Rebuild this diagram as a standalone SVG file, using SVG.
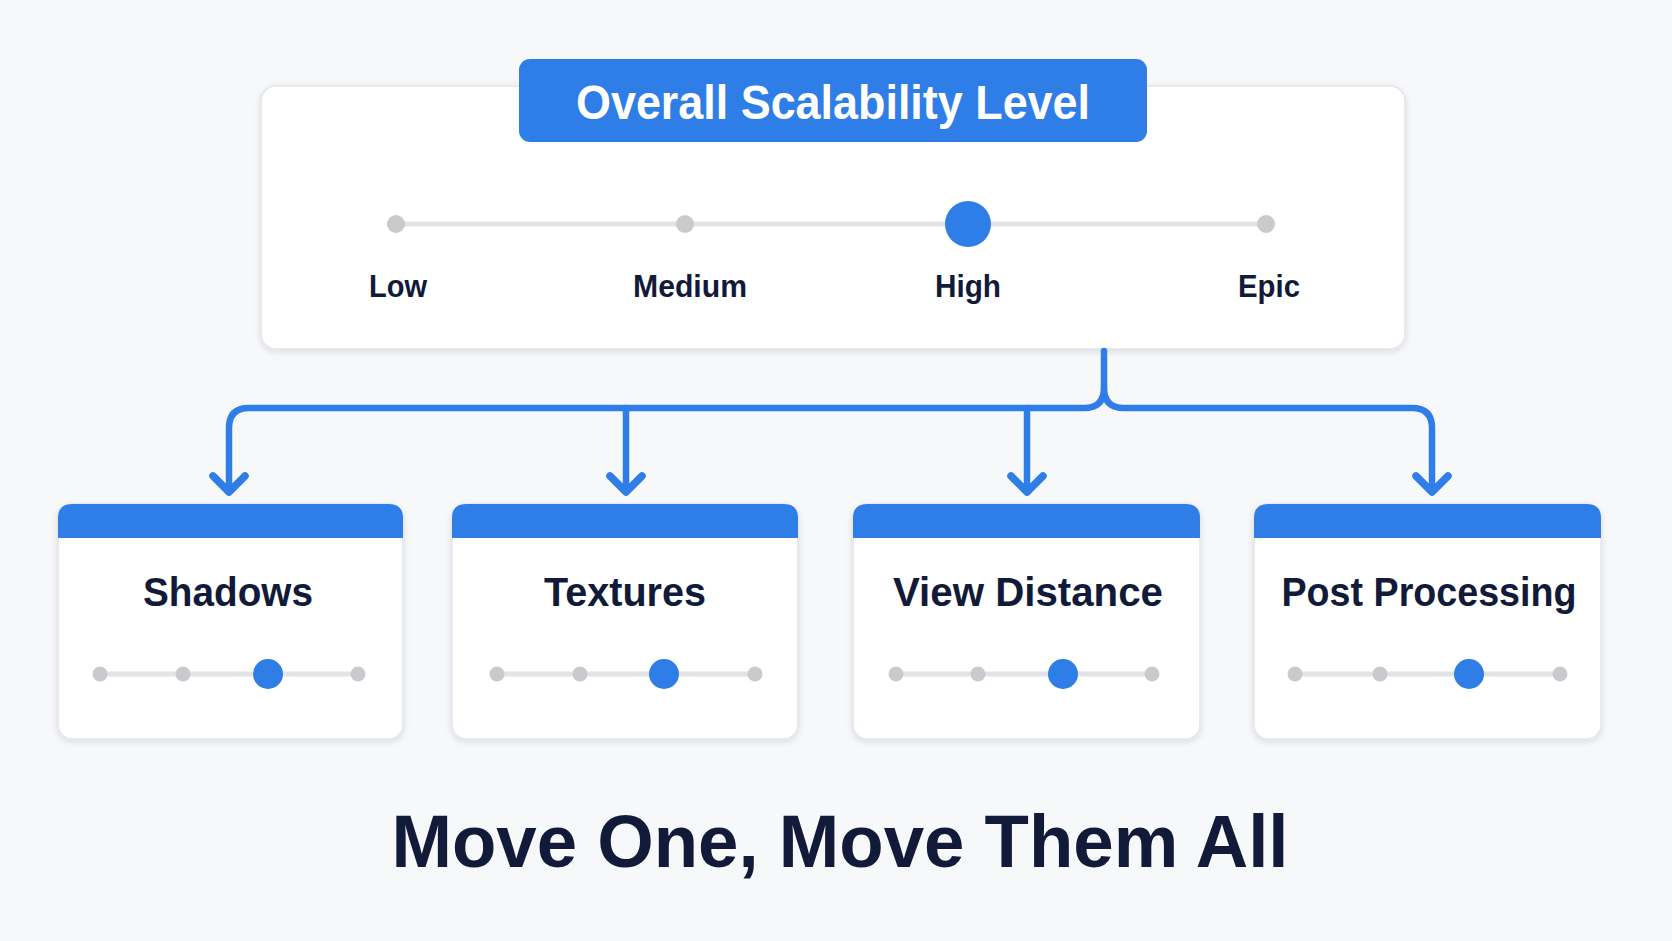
<svg xmlns="http://www.w3.org/2000/svg" width="1672" height="941" viewBox="0 0 1672 941">
<defs>
<filter id="sh" x="-10%" y="-10%" width="120%" height="130%">
<feDropShadow dx="0" dy="2" stdDeviation="3" flood-color="#1a2440" flood-opacity="0.12"/>
</filter>
</defs>
<style>
.panel{fill:#ffffff;stroke:#e3e5ea;stroke-width:1.5}
.blue{fill:#2f7de6}
.track{stroke:#e2e3e6;stroke-width:5;stroke-linecap:round}
.dot{fill:#c9cacd}
.knob{fill:#2f7de6}
.lbl{font-family:"Liberation Sans",Arial,sans-serif;font-weight:bold;fill:#111a38;text-anchor:middle}
.conn{fill:none;stroke:#2f7de6;stroke-width:6.5;stroke-linecap:round;stroke-linejoin:round}
.head{fill:none;stroke:#2f7de6;stroke-width:7.5;stroke-linecap:round;stroke-linejoin:round}
</style>
<rect width="1672" height="941" fill="#f7f8fa"/>

<g id="overall">
<rect class="panel" x="261" y="86" width="1144" height="263" rx="15" filter="url(#sh)"/>
<rect class="blue" x="519" y="59" width="628" height="83" rx="11"/>
<text class="lbl" x="833" y="119" font-size="48" style="fill:#ffffff" textLength="514" lengthAdjust="spacingAndGlyphs">Overall Scalability Level</text>
<line class="track" x1="396" y1="224" x2="1266" y2="224"/>
<circle class="dot" cx="396" cy="224" r="9"/>
<circle class="dot" cx="685" cy="224" r="9"/>
<circle class="knob" cx="968" cy="224" r="23"/>
<circle class="dot" cx="1266" cy="224" r="9"/>
<text class="lbl" x="398" y="297" font-size="32" textLength="58" lengthAdjust="spacingAndGlyphs">Low</text>
<text class="lbl" x="690" y="297" font-size="32" textLength="114" lengthAdjust="spacingAndGlyphs">Medium</text>
<text class="lbl" x="968" y="297" font-size="32" textLength="66" lengthAdjust="spacingAndGlyphs">High</text>
<text class="lbl" x="1269" y="297" font-size="32" textLength="62" lengthAdjust="spacingAndGlyphs">Epic</text>
</g>

<g id="connectors">
<path class="conn" d="M1104 351 V388 Q1104 408 1084 408 H249 Q229 408 229 428 V490"/>
<path class="conn" d="M1104 388 Q1104 408 1124 408 H1412 Q1432 408 1432 428 V490"/>
<path class="conn" d="M626 408 V490"/>
<path class="conn" d="M1027 408 V490"/>
<path class="head" d="M213 476 L229 492 L245 476"/>
<path class="head" d="M610 476 L626 492 L642 476"/>
<path class="head" d="M1011 476 L1027 492 L1043 476"/>
<path class="head" d="M1416 476 L1432 492 L1448 476"/>
</g>

<g id="shadows">
<rect class="panel" x="58" y="504" width="345" height="235" rx="14" filter="url(#sh)"/>
<path class="blue" d="M58 538 V518 Q58 504 72 504 H389 Q403 504 403 518 V538 Z"/>
<text class="lbl" x="228" y="606" font-size="41" textLength="170" lengthAdjust="spacingAndGlyphs">Shadows</text>
<line class="track" x1="100" y1="674" x2="358" y2="674"/>
<circle class="dot" cx="100" cy="674" r="7.5"/>
<circle class="dot" cx="183" cy="674" r="7.5"/>
<circle class="dot" cx="358" cy="674" r="7.5"/>
<circle class="knob" cx="268" cy="674" r="15"/>
</g>

<g id="textures">
<rect class="panel" x="452" y="504" width="346" height="235" rx="14" filter="url(#sh)"/>
<path class="blue" d="M452 538 V518 Q452 504 466 504 H784 Q798 504 798 518 V538 Z"/>
<text class="lbl" x="625" y="606" font-size="41" textLength="162" lengthAdjust="spacingAndGlyphs">Textures</text>
<line class="track" x1="497" y1="674" x2="755" y2="674"/>
<circle class="dot" cx="497" cy="674" r="7.5"/>
<circle class="dot" cx="580" cy="674" r="7.5"/>
<circle class="dot" cx="755" cy="674" r="7.5"/>
<circle class="knob" cx="664" cy="674" r="15"/>
</g>

<g id="view-distance">
<rect class="panel" x="853" y="504" width="347" height="235" rx="14" filter="url(#sh)"/>
<path class="blue" d="M853 538 V518 Q853 504 867 504 H1186 Q1200 504 1200 518 V538 Z"/>
<text class="lbl" x="1028" y="606" font-size="41" textLength="270" lengthAdjust="spacingAndGlyphs">View Distance</text>
<line class="track" x1="896" y1="674" x2="1152" y2="674"/>
<circle class="dot" cx="896" cy="674" r="7.5"/>
<circle class="dot" cx="978" cy="674" r="7.5"/>
<circle class="dot" cx="1152" cy="674" r="7.5"/>
<circle class="knob" cx="1063" cy="674" r="15"/>
</g>

<g id="post-processing">
<rect class="panel" x="1254" y="504" width="347" height="235" rx="14" filter="url(#sh)"/>
<path class="blue" d="M1254 538 V518 Q1254 504 1268 504 H1587 Q1601 504 1601 518 V538 Z"/>
<text class="lbl" x="1429" y="606" font-size="41" textLength="295" lengthAdjust="spacingAndGlyphs">Post Processing</text>
<line class="track" x1="1295" y1="674" x2="1560" y2="674"/>
<circle class="dot" cx="1295" cy="674" r="7.5"/>
<circle class="dot" cx="1380" cy="674" r="7.5"/>
<circle class="dot" cx="1560" cy="674" r="7.5"/>
<circle class="knob" cx="1469" cy="674" r="15"/>
</g>

<g id="caption">
<text class="lbl" x="840" y="867" font-size="74" textLength="897" lengthAdjust="spacingAndGlyphs">Move One, Move Them All</text>
</g>
</svg>
